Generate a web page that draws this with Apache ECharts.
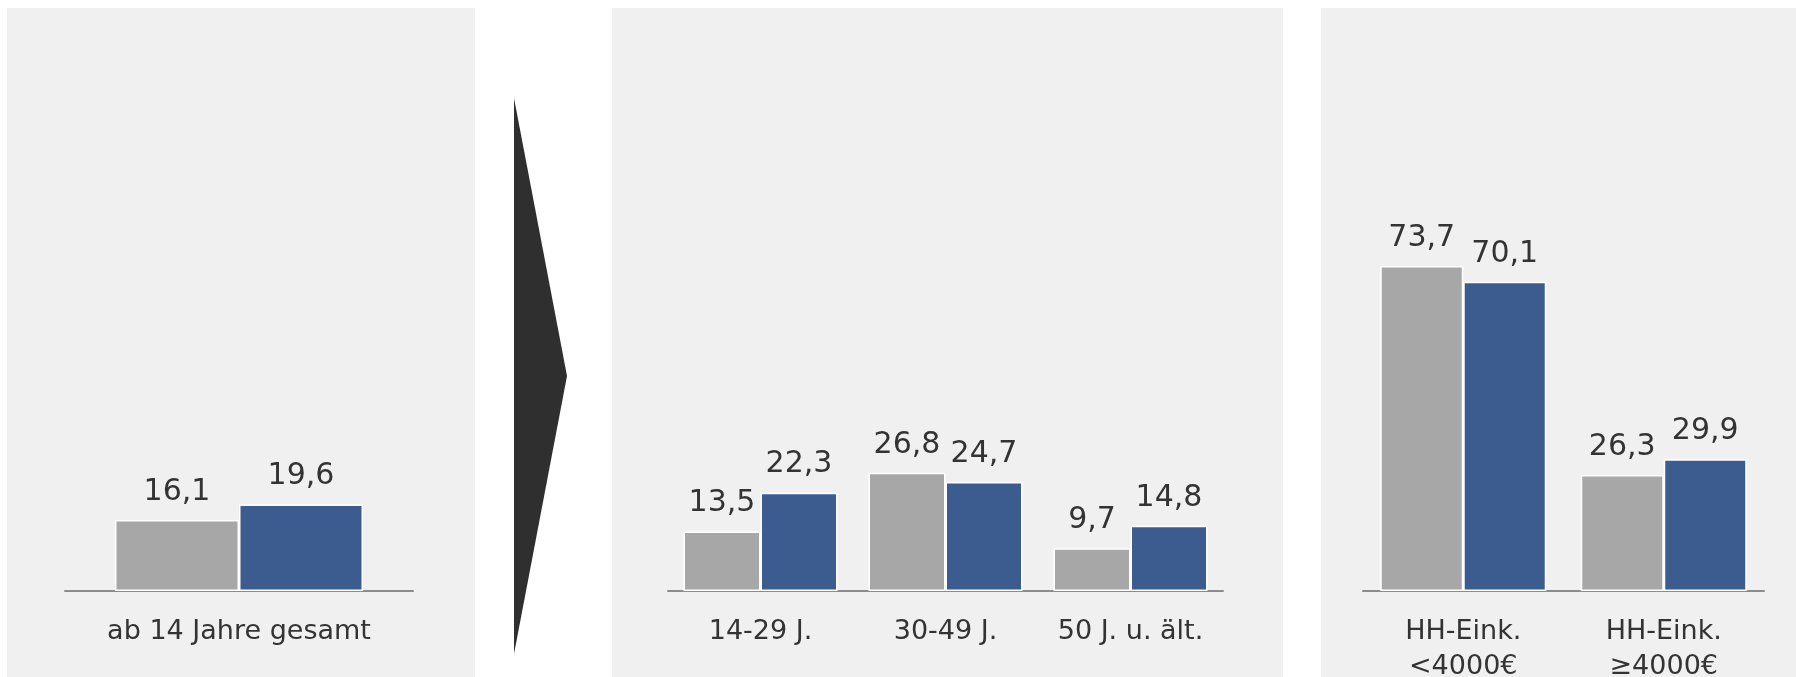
<!DOCTYPE html>
<html>
<head>
<meta charset="utf-8">
<script src="https://cdn.jsdelivr.net/npm/echarts@6/dist/echarts.min.js"></script>
<style>
  html, body { margin: 0; padding: 0; background: #fff; }
  #chart_wrap { width: 1796px; height: 677px; }
</style>
</head>
<body>
<div id="chart_wrap"></div>
<script>
// panel 1: total
const cats1 = ['ab 14 Jahre gesamt'];
const grey1 = [16.1];
const blue1 = [19.6];
// panel 2: age groups
const cats2 = ['14-29 J.', '30-49 J.', '50 J. u. ält.'];
const grey2 = [13.5, 26.8, 9.7];
const blue2 = [22.3, 24.7, 14.8];
// panel 3: household income
const cats3 = ['HH-Eink.\n<4000€', 'HH-Eink.\n≥4000€'];
const grey3 = [73.7, 26.3];
const blue3 = [70.1, 29.9];

const GREY = '#a7a7a7';
const BLUE = '#3c5b8f';
const TXT = '#333333';
const FONT = 'DejaVu Sans';

const chart = echarts.init(document.getElementById('chart_wrap'));

const xAxisFor = (idx, data) => ({
  type: 'category',
  gridIndex: idx,
  data: data,
  axisTick: { show: false },
  axisLine: { lineStyle: { color: '#8c8c8c', width: 2 } },
  axisLabel: {
    interval: 0,
    color: TXT,
    fontFamily: FONT,
    fontSize: 27,
    lineHeight: 35,
    margin: 23,
    verticalAlign: 'top'
  }
});

const yAxisFor = (idx) => ({
  type: 'value',
  gridIndex: idx,
  min: 0,
  max: 100,
  show: false
});

const barFor = (idx, name, data, color, width) => ({
  name: name,
  type: 'bar',
  xAxisIndex: idx,
  yAxisIndex: idx,
  data: data,
  barWidth: width,
  barGap: '0%',
  itemStyle: { color: color, borderColor: '#ffffff', borderWidth: 1.5 },
  label: {
    show: true,
    position: 'top',
    distance: 13,
    color: TXT,
    fontFamily: FONT,
    fontSize: 30,
    formatter: p => p.value.toFixed(1).replace('.', ',')
  }
});

chart.setOption({
  backgroundColor: '#ffffff',
  animation: false,
  textStyle: { fontFamily: FONT },
  graphic: [
    { type: 'rect', z: -10, shape: { x: 7, y: 8, width: 468, height: 669 }, style: { fill: '#f0f0f0' } },
    { type: 'rect', z: -10, shape: { x: 612, y: 8, width: 671, height: 669 }, style: { fill: '#f0f0f0' } },
    { type: 'rect', z: -10, shape: { x: 1321, y: 8, width: 475, height: 669 }, style: { fill: '#f0f0f0' } },
    { type: 'polygon', z: -10, shape: { points: [[514, 98], [567, 376], [514, 654]] }, style: { fill: '#2f2f2f' } }
  ],
  grid: [
    { left: 65, width: 348, top: 150, bottom: 86, outerBoundsMode: 'none' },
    { left: 668, width: 555, top: 150, bottom: 86, outerBoundsMode: 'none' },
    { left: 1363, width: 401, top: 150, bottom: 86, outerBoundsMode: 'none' }
  ],
  xAxis: [xAxisFor(0, cats1), xAxisFor(1, cats2), xAxisFor(2, cats3)],
  yAxis: [yAxisFor(0), yAxisFor(1), yAxisFor(2)],
  series: [
    barFor(0, 'grau', grey1, GREY, 124),
    barFor(0, 'blau', blue1, BLUE, 124),
    barFor(1, 'grau', grey2, GREY, 77),
    barFor(1, 'blau', blue2, BLUE, 77),
    barFor(2, 'grau', grey3, GREY, 83),
    barFor(2, 'blau', blue3, BLUE, 83)
  ]
});
</script>
</body>
</html>
